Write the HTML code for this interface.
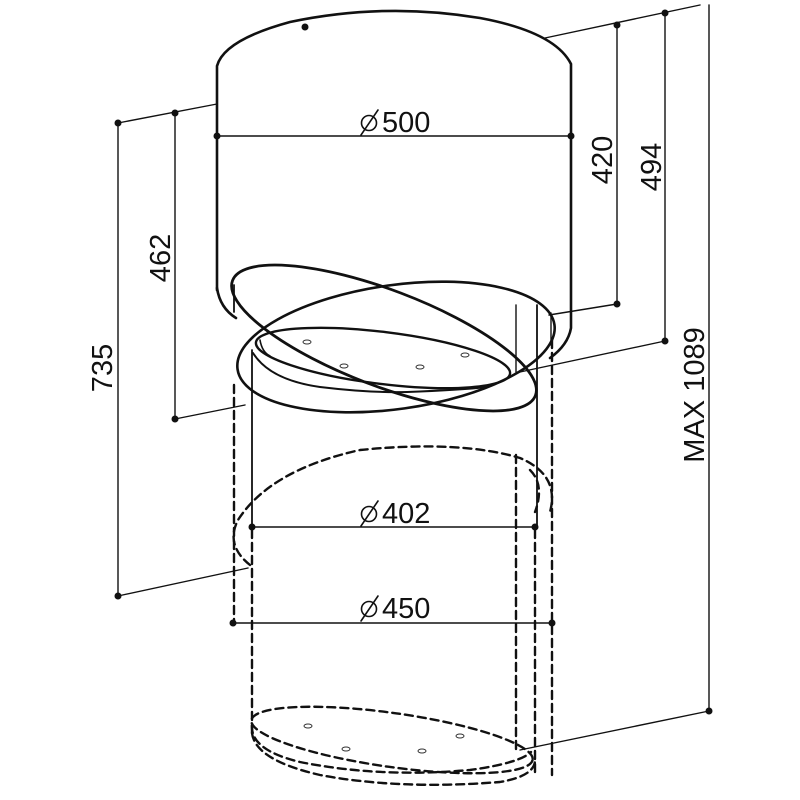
<!DOCTYPE html>
<html><head><meta charset="utf-8"><style>
html,body{margin:0;padding:0;background:#fff;}
svg{display:block;}
text{font-family:"Liberation Sans",sans-serif;fill:#111;}
</style></head><body>
<svg width="800" height="800" viewBox="0 0 800 800" xmlns="http://www.w3.org/2000/svg">
<g fill="none" stroke="#111" stroke-linecap="round">
<!-- top cylinder -->
<path d="M217,290 L217,66 Q224,40 290,22 Q385,2 480,18 Q555,32 571,64 L571,328 Q568,345 550,358" stroke-width="2.6"/>
<path d="M217,288 Q220,308 236,318" stroke-width="2.6"/>
<!-- ring ellipses -->
<ellipse cx="384" cy="338" rx="162" ry="48" transform="rotate(20.8 384 338)" stroke-width="2.8"/>
<ellipse cx="396" cy="347" rx="160" ry="62" transform="rotate(-8 396 347)" stroke-width="2.6"/>
<ellipse cx="383" cy="358" rx="128" ry="26" transform="rotate(7 383 358)" stroke-width="2.4"/>
<path d="M253,353 Q270,380 320,387 Q370,393 407,392 Q460,390 487,387" stroke-width="2"/>
<path d="M260,340 Q262,352 270,356" stroke-width="1.6"/>
<!-- solid verticals -->
<line x1="252" y1="350" x2="252" y2="527" stroke-width="1.8"/>
<line x1="537" y1="305" x2="537" y2="527" stroke-width="1.8"/>
<line x1="234" y1="285" x2="234" y2="312" stroke-width="1.8"/>
<line x1="516" y1="305" x2="516" y2="372" stroke-width="1.4"/>
<line x1="551" y1="313" x2="551" y2="345" stroke-width="1.4"/>
<!-- dashed -->
<g stroke-dasharray="8,5" stroke-width="2.4">
<line x1="234" y1="385" x2="234" y2="625"/>
<line x1="252" y1="530" x2="252" y2="735"/>
<line x1="516" y1="455" x2="516" y2="752"/>
<line x1="535" y1="530" x2="535" y2="775"/>
<line x1="552" y1="340" x2="552" y2="775"/>
<path d="M250,565 Q225,545 238,520 Q270,470 360,450 Q460,440 520,458 Q560,475 550,512"/>
<path d="M530,470 Q545,485 535,512" />
<ellipse cx="392" cy="740" rx="142" ry="27" transform="rotate(8 392 740)"/>
<path d="M252,725 Q250,750 300,762 Q380,778 470,770 Q520,763 531,752"/>
<path d="M252,733 Q255,760 320,775 Q400,790 500,782 Q535,776 535,760"/>
</g>
<!-- dimension lines -->
<g stroke-width="1.4">
<line x1="217" y1="136" x2="571" y2="136"/>
<line x1="252" y1="527" x2="535" y2="527"/>
<line x1="233" y1="623" x2="552" y2="623"/>
<line x1="545" y1="38" x2="700" y2="5"/>
<line x1="617" y1="25" x2="617" y2="304"/>
<line x1="665" y1="13" x2="665" y2="341"/>
<line x1="709" y1="5" x2="709" y2="711"/>
<line x1="549" y1="315" x2="617" y2="304"/>
<line x1="520" y1="372" x2="665" y2="341"/>
<line x1="520" y1="750" x2="709" y2="711"/>
<line x1="118" y1="123" x2="217" y2="104"/>
<line x1="118" y1="123" x2="118" y2="596"/>
<line x1="175" y1="113" x2="175" y2="419"/>
<line x1="175" y1="419" x2="245" y2="405"/>
<line x1="118" y1="596" x2="248" y2="568"/>
</g>
<!-- diameter symbols -->
<g stroke-width="1.6">
<circle cx="369" cy="123" r="7.5"/><line x1="361" y1="135" x2="378" y2="110"/>
<circle cx="369" cy="514" r="7.5"/><line x1="361" y1="526" x2="378" y2="501"/>
<circle cx="369" cy="609" r="7.5"/><line x1="361" y1="621" x2="378" y2="596"/>
</g>
</g>
<g fill="#111">
<circle cx="305" cy="27" r="3.5"/>
<circle cx="217" cy="136" r="3.5"/><circle cx="571" cy="136" r="3.5"/>
<circle cx="252" cy="527" r="3.5"/><circle cx="535" cy="527" r="3.5"/>
<circle cx="233" cy="623" r="3.5"/><circle cx="552" cy="623" r="3.5"/>
<circle cx="617" cy="25" r="3.5"/><circle cx="665" cy="13" r="3.5"/>
<circle cx="617" cy="304" r="3.5"/><circle cx="665" cy="341" r="3.5"/><circle cx="709" cy="711" r="3.5"/>
<circle cx="118" cy="123" r="3.5"/><circle cx="175" cy="113" r="3.5"/>
<circle cx="175" cy="419" r="3.5"/><circle cx="118" cy="596" r="3.5"/>
</g>
<g fill="none" stroke="#333" stroke-width="1">
<ellipse cx="307" cy="342" rx="4" ry="2"/><ellipse cx="344" cy="366" rx="4" ry="2"/>
<ellipse cx="420" cy="367" rx="4" ry="2"/><ellipse cx="465" cy="355" rx="4" ry="2"/>
<ellipse cx="308" cy="726" rx="4" ry="2"/><ellipse cx="346" cy="749" rx="4" ry="2"/>
<ellipse cx="422" cy="751" rx="4" ry="2"/><ellipse cx="460" cy="736" rx="4" ry="2"/>
</g>
<g font-size="29">
<text x="382" y="132">500</text>
<text x="382" y="523">402</text>
<text x="382" y="618">450</text>
<text transform="translate(612,160) rotate(-90)" text-anchor="middle">420</text>
<text transform="translate(661,167) rotate(-90)" text-anchor="middle">494</text>
<text transform="translate(704,395) rotate(-90)" text-anchor="middle">MAX 1089</text>
<text transform="translate(170,258) rotate(-90)" text-anchor="middle">462</text>
<text transform="translate(112,368) rotate(-90)" text-anchor="middle">735</text>
</g>
</svg>
</body></html>
